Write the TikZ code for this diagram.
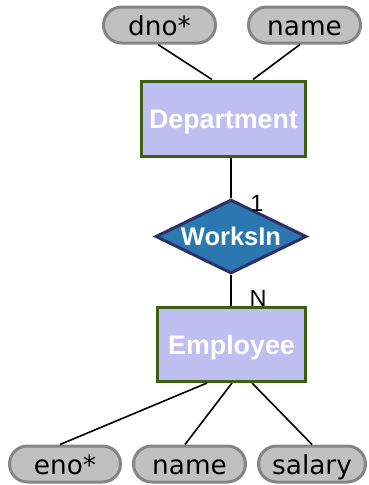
\documentclass[tikz,border=0pt]{standalone}
\usepackage{fontspec}
\usetikzlibrary{shapes.geometric}
\newfontfamily\attrfont{DejaVu Sans}
\newfontfamily\headfont{Liberation Sans}
\definecolor{entfill}{HTML}{BEBEF0}
\definecolor{entdraw}{HTML}{3D5F10}
\definecolor{relfill}{HTML}{2B78B0}
\definecolor{reldraw}{HTML}{2E2E68}
\definecolor{attfill}{HTML}{C0C0C0}
\definecolor{attdraw}{HTML}{858585}
\tikzset{
  entity/.style={rectangle, draw=entdraw, fill=entfill, line width=3pt,
    inner sep=0pt, text height=20pt, text depth=0pt, text=white,
    font=\headfont\bfseries\fontsize{26.8}{30}\selectfont},
  relation/.style={diamond, aspect=2, draw=reldraw, fill=relfill, line width=3pt,
    inner sep=0pt, minimum width=151pt, minimum height=74pt, text=white,
    font=\headfont\bfseries\fontsize{25.5}{28}\selectfont},
  attribute/.style={rectangle, rounded corners=18pt, draw=attdraw, fill=attfill,
    line width=3pt, inner sep=0pt, minimum height=36pt,
    text height=21pt, text depth=0pt,
    font=\attrfont\fontsize{26.3}{30}\selectfont},
  card/.style={inner sep=0pt, font=\headfont\fontsize{23.5}{26}\selectfont},
  link/.style={line width=1.6pt, black}
}
\begin{document}
\begin{tikzpicture}[x=1pt,y=1pt]
\useasboundingbox (0,0) rectangle (368,-485);
% entities
\node[entity, minimum width=164pt, minimum height=75pt] (dept) at (223.5,-118.5) {Department};
\node[entity, minimum width=148pt, minimum height=74pt] (emp) at (231.5,-344.5) {Employee};
% relationship
\node[relation] (works) at (231,-236.5) {WorksIn};
% attributes
\node[attribute, minimum width=112pt] (dno) at (159.5,-25) {dno*};
\node[attribute, minimum width=112pt] (dname) at (304.5,-25) {name};
\node[attribute, minimum width=111pt] (eno) at (65,-464) {eno*};
\node[attribute, minimum width=112pt] (ename) at (189.5,-464) {name};
\node[attribute, minimum width=107pt] (salary) at (312,-464) {salary};
% cardinalities
\node[card] (one) at (257,-203) {1};
\node[card] (many) at (258,-298) {N};
% connectors
\draw[link] ([xshift=-1.5pt]dno.south) -- ([xshift=-11.5pt]dept.north);
\draw[link] ([xshift=-4.5pt]dname.south) -- ([xshift=29.5pt]dept.north);
\draw[link] (dept.south -| works.north) -- (works.north);
\draw[link] (works.south) -- (works.south |- emp.north);
\draw[link] ([xshift=-5pt]eno.north) -- ([xshift=-24.5pt]emp.south);
\draw[link] ([xshift=-4.5pt]ename.north) -- ([xshift=0.5pt]emp.south);
\draw[link] (salary.north) -- ([xshift=20.5pt]emp.south);
\end{tikzpicture}
\end{document}
